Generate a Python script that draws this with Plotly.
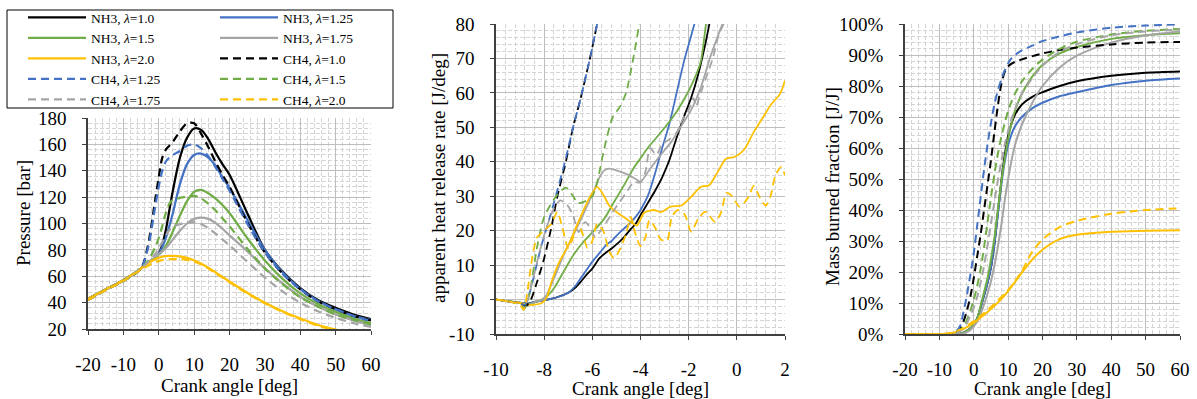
import plotly.graph_objects as go

W, H = 1197, 399
FONT = "Liberation Serif"

# ---------------- labels / colours ----------------
LABELS = ["NH3, λ=1.0", "NH3, λ=1.25", "NH3, λ=1.5", "NH3, λ=1.75", "NH3, λ=2.0",
          "CH4, λ=1.0", "CH4, λ=1.25", "CH4, λ=1.5", "CH4, λ=1.75", "CH4, λ=2.0"]
COLORS = ["#000000", "#4472C4", "#70AD47", "#A5A5A5", "#FFC000"] * 2
DASHES = ["solid"] * 5 + ["8px,5px"] * 5
LEGEND_OF = ["legend", "legend2", "legend", "legend2", "legend",
             "legend2", "legend", "legend2", "legend", "legend2"]

# ---------------- panel 1: pressure [bar] vs crank angle ----------------
P_ANGLE = [-20, -15, -10, -5, -3, -1, 0, 1, 2, 3, 4, 6, 8, 10, 12, 14, 16, 18, 20, 25, 30, 35, 40, 45, 50, 55, 60]
P_NH3_10 = [43, 50, 57, 66, 70.5, 74, 77, 84, 95, 110, 125, 150, 165, 172, 171, 164, 154, 145, 137, 108, 80, 63.5, 51, 42, 36, 31, 27.5]
P_NH3_125 = [43, 50, 57, 66, 70.5, 74, 77, 82, 89, 98, 108, 130, 145, 152, 153, 150, 144, 135, 127, 103, 80, 63, 50.5, 41.5, 35, 30, 27]
P_NH3_15 = [43, 50, 57, 66, 70.5, 74, 76.5, 79, 83, 88, 94, 106, 117, 124, 125.5, 123, 119, 114, 108, 89, 72, 58, 47, 39, 33, 28, 24.5]
P_NH3_175 = [43, 50, 57, 66, 70.5, 74, 77, 79, 81.5, 84.5, 88, 94.5, 100, 103.5, 104.5, 103.5, 100.5, 96, 91, 79, 66, 54.5, 44.5, 37, 31, 26.5, 23]
P_NH3_20 = [43, 50, 57, 66, 70, 73, 74, 74.8, 75.3, 75.5, 75.5, 75, 74, 72, 69.5, 66.5, 63, 59.5, 56, 47.5, 40, 33.5, 28, 23, 19.5, 16.5, 14]
P_CH4_10 = [42, 49.5, 56.5, 66, 84, 118, 135, 150, 156, 159, 162, 170, 176, 176, 168, 158, 147, 137, 128, 101, 78, 62, 50, 41, 35, 30, 26.5]
P_CH4_125 = [42, 49.5, 56.5, 66, 82, 113, 128, 140, 147, 150, 152, 155, 159, 160, 157, 151, 143, 134, 125, 100, 78, 62, 50, 41, 35, 30, 26]
P_CH4_15 = [42, 49.5, 56.5, 66, 72, 82, 89, 98, 108, 115, 118, 119.5, 120.5, 121, 119, 115, 110, 104, 98, 81, 66, 54, 44, 37, 31, 27, 23.5]
P_CH4_175 = [42, 49.5, 56.5, 66, 71, 77, 81, 86, 91, 95, 97.5, 99.5, 100.5, 101, 99.5, 96.5, 92.5, 88, 83.5, 71, 59, 48.5, 40, 33.5, 28.5, 24.5, 21.5]
P_CH4_20 = [42, 49.5, 56.5, 65, 68, 70.5, 71.5, 72.3, 72.8, 73, 73, 73, 72.5, 71, 69, 66, 62.5, 59, 55.5, 47, 39.5, 33, 27.5, 22.5, 19, 16, 13.5]

# ---------------- panel 2: apparent heat release rate [J/deg] ----------------
HRR_X_NH3_10 = [-10, -9.5, -9, -8.7, -8.4, -8, -7.5, -7, -6.7, -6.5, -6.2, -6, -5.7, -5.4, -5.2, -5, -4.7, -4.4, -4.2, -4, -3.7, -3.4, -3.1, -2.8, -2.5, -2.2, -1.9, -1.6, -1.3, -1.0]
HRR_NH3_10 = [0, -0.5, -0.9, -1.2, -0.7, -0.2, 0.6, 2, 3.5, 5, 7.5, 9, 12, 13.8, 14.8, 16, 18, 20.5, 22, 24.5, 28, 31.5, 35.5, 40.5, 47, 53, 58.5, 65.5, 74.5, 85]
HRR_X_NH3_125 = [-10, -9.5, -9, -8.7, -8.4, -8, -7.5, -7, -6.7, -6.5, -6.2, -6, -5.7, -5.4, -5.2, -5, -4.7, -4.4, -4.2, -4, -3.7, -3.4, -3.1, -2.8, -2.5, -2.2, -1.9, -1.6]
HRR_NH3_125 = [0, -0.5, -0.9, -1.2, -0.7, -0.2, 0.6, 2, 4, 6, 9, 11, 13.5, 16, 17, 18.5, 20.5, 22.5, 24, 26, 30, 36.5, 44, 51, 60, 69, 76.5, 84]
HRR_X_NH3_15 = [-10, -9.5, -9, -8.7, -8.4, -8.1, -7.8, -7.6, -7.2, -6.8, -6.4, -6, -5.5, -5.1, -4.7, -4.3, -4, -3.7, -3.1, -2.6, -2.2, -1.8, -1.5, -1.28, -1.1]
HRR_NH3_15 = [0, -0.5, -1, -1.5, -0.8, 0, 1.5, 3.2, 8, 12.8, 16.5, 19.5, 23.5, 28.3, 33, 38, 41, 44, 49, 53.5, 58, 63.5, 69, 80, 87]
HRR_X_NH3_175 = [-10, -9.5, -9, -8.7, -8.4, -8.0, -7.6, -7.2, -6.8, -6.4, -6.0, -5.7, -5.5, -5.3, -5.0, -4.6, -4.2, -4.0, -3.6, -3.1, -2.7, -2.3, -1.9, -1.5, -1.1, -0.6, -0.3]
HRR_NH3_175 = [0, -0.5, -1, -1.8, -0.8, 0.3, 6, 12.8, 18.6, 24.4, 30.5, 35.5, 37.5, 38, 37.5, 36.5, 35, 34.2, 38, 42.5, 46, 50.5, 55, 61.5, 70.5, 80, 86]
HRR_X_NH3_20 = [-10, -9.5, -9, -8.7, -8.4, -8.1, -7.9, -7.7, -7.4, -7.0, -6.7, -6.4, -6.1, -5.8, -5.55, -5.3, -5.0, -4.7, -4.4, -4.15, -3.85, -3.45, -3.15, -2.75, -2.3, -1.9, -1.5, -1.15, -0.8, -0.45, -0.1, 0.3, 0.7, 1.05, 1.4, 1.8, 2.0]
HRR_NH3_20 = [0, -0.5, -1, -1.5, -1.5, -1.0, 0.5, 5, 10.5, 15.7, 20.6, 25.4, 29.8, 32.7, 30.5, 27.3, 25.4, 24, 22.5, 21.5, 25.2, 26, 25.4, 27, 27.3, 29.8, 32.7, 33.2, 37, 40.9, 41.4, 43.5, 48.6, 52.5, 56.4, 59.8, 63.6]
HRR_X_CH4_10 = [-10, -9.5, -9, -8.75, -8.55, -8.3, -8.0, -7.7, -7.45, -7.1, -6.8, -6.5, -6.1, -5.8, -5.6]
HRR_CH4_10 = [0, -0.5, -1.2, -1.8, 0, 5, 12, 21, 30, 40, 50, 58, 70, 80, 86]
HRR_X_CH4_125 = [-10, -9.5, -9, -8.8, -8.6, -8.35, -8.1, -7.8, -7.5, -7.1, -6.8, -6.5, -6.1, -5.8, -5.6]
HRR_CH4_125 = [0, -0.5, -1.2, -1.5, 2, 9, 16, 23, 30.5, 41, 50, 58, 70, 80, 86]
HRR_X_CH4_15 = [-10, -9.5, -9, -8.8, -8.6, -8.3, -8.0, -7.5, -7.1, -6.8, -6.6, -6.3, -6.0, -5.8, -5.5, -5.15, -4.85, -4.6, -4.3, -4.05, -3.9]
HRR_CH4_15 = [0, -0.5, -1.5, -2.5, 2, 15, 24, 30, 32.5, 30, 28, 28.5, 30, 34, 44, 53, 56, 60, 70, 80, 86]
HRR_X_CH4_175 = [-10, -9.5, -9, -8.85, -8.5, -8.23, -7.96, -7.6, -7.33, -7.05, -6.8, -6.57, -6.3, -6.1, -5.88, -5.6, -5.32, -5.0, -4.6, -4.28, -4.0, -3.8, -3.6, -3.35, -3.1, -2.8, -2.5, -2.2, -2.0, -1.8, -1.7, -1.5, -1.2, -1.0, -0.75, -0.55, -0.4]
HRR_CH4_175 = [0, -0.5, -1.5, -3, 5, 12.8, 19.6, 26.4, 28.8, 27.5, 24.4, 19.6, 22.5, 21, 18.1, 20.6, 23.5, 27, 31, 34.1, 34, 37, 44, 42, 45, 46.5, 48.5, 53, 55, 58.5, 56, 60, 66, 70, 77, 80, 84]
HRR_X_CH4_20 = [-10, -9.5, -9, -8.85, -8.7, -8.5, -8.3, -8.0, -7.7, -7.45, -7.25, -7.0, -6.8, -6.6, -6.4, -6.2, -6.0, -5.8, -5.55, -5.3, -5.1, -4.9, -4.6, -4.4, -4.25, -4.0, -3.8, -3.63, -3.4, -3.17, -2.9, -2.7, -2.45, -2.15, -1.9, -1.6, -1.3, -0.9, -0.65, -0.43, -0.2, 0.1, 0.3, 0.5, 0.7, 0.95, 1.2, 1.4, 1.6, 1.85, 2.0]
HRR_CH4_20 = [0, -0.5, -1.5, -3, 2, 12, 18, 20, 22, 25.5, 21, 15, 18, 22, 19, 15, 17, 22, 20, 14, 12, 14, 19, 24, 20, 15.5, 18, 23, 21, 17.5, 17, 24, 26, 24.5, 19.7, 23.5, 25.5, 22.5, 25.4, 31, 30, 27, 28, 30, 33, 29.7, 27.3, 30, 36, 38.5, 36]

# ---------------- panel 3: mass burned fraction [%] ----------------
R_ANGLE = [-20, -10, -8, -6, -5, -4, -3, -2, -1, 0, 1, 2, 3, 4, 5, 6, 7, 8, 9, 10, 11, 12, 14, 17, 20, 25, 30, 40, 50, 60]
R_NH3_10 = [0, 0, 0, 0, 0, 0.1, 0.4, 1, 1.8, 3, 5, 8.5, 12.5, 16.5, 21.5, 29, 39, 49, 57.5, 64, 68, 70.8, 74, 76.5, 78, 80, 81.5, 83.3, 84.3, 84.7]
R_NH3_125 = [0, 0, 0, 0, 0, 0.1, 0.4, 1, 1.8, 3, 5, 8.5, 12.5, 16.5, 21.5, 29, 38.5, 48, 55.5, 61, 64.5, 67, 70, 72.8, 74.6, 76.7, 78, 80.3, 81.7, 82.4]
R_NH3_15 = [0, 0, 0, 0, 0, 0.1, 0.4, 1, 1.8, 3, 5, 9, 13.5, 18, 24, 31, 40, 49, 56.5, 63, 68, 72, 77.5, 83, 86.8, 90.5, 92.6, 95.2, 96.4, 97]
R_NH3_175 = [0, 0, 0, 0, 0, 0, 0.2, 0.6, 1.3, 2.5, 4, 6.5, 9.5, 13, 17, 22, 28, 35, 43, 50, 56, 61, 67.5, 74.5, 80, 86, 89.8, 94, 96.3, 97.6]
R_NH3_20 = [0, 0, 0.1, 0.4, 0.7, 1.1, 1.6, 2.2, 2.9, 3.6, 4.4, 5.3, 6.2, 7.1, 8.1, 9.1, 10.2, 11.3, 12.5, 13.8, 15.3, 16.8, 19.8, 24, 27.2, 30.6, 32, 33, 33.3, 33.5]
R_CH4_10 = [0, 0, 0, 0, 0.3, 1.5, 4, 7.5, 12, 18, 25, 32, 40, 48, 56, 65, 73.5, 80.5, 84.5, 86.3, 87.2, 87.8, 88.6, 89.6, 90.5, 91.6, 92.4, 93.4, 94, 94.2]
R_CH4_125 = [0, 0, 0, 0.3, 1, 2.5, 7, 12.5, 19, 26, 35, 44, 53, 61, 68, 74, 78.5, 82, 85, 87.3, 89, 90, 91.5, 93, 94.5, 96, 97.3, 98.8, 99.5, 99.9]
R_CH4_15 = [0, 0, 0, 0, 0.3, 1, 2.5, 4.5, 7.5, 11, 15.5, 21, 28, 36, 44, 51.5, 58, 63.5, 68, 72, 75, 77.5, 81.5, 85.5, 88.5, 92, 94.3, 96.6, 97.8, 98.4]
R_CH4_175 = [0, 0, 0, 0, 0.2, 0.8, 2, 3.5, 6, 8.5, 12, 16.5, 22, 28.5, 35.5, 42.5, 49.5, 55.5, 61, 65.5, 69.5, 72.5, 77.5, 82.5, 86.5, 91, 93.5, 96.3, 97.6, 98.2]
R_CH4_20 = [0, 0, 0.1, 0.5, 0.9, 1.4, 2, 2.7, 3.4, 4.2, 5, 5.9, 6.8, 7.7, 8.7, 9.7, 10.8, 11.9, 13, 14.2, 15.5, 17, 20.3, 26.5, 30.5, 34.5, 36.5, 38.8, 40, 40.5]

# ---------------- tick labels ----------------
P_XTICKS = [-20, -10, 0, 10, 20, 30, 40, 50, 60]
P_YTICKS = [20, 40, 60, 80, 100, 120, 140, 160, 180]
HRR_XTICKS = [-10, -8, -6, -4, -2, 0, 2]
HRR_YTICKS = [-10, 0, 10, 20, 30, 40, 50, 60, 70, 80]
R_XTICKS = [-20, -10, 0, 10, 20, 30, 40, 50, 60]
R_YTICKS = [0, 10, 20, 30, 40, 50, 60, 70, 80, 90, 100]

P_SERIES = [P_NH3_10, P_NH3_125, P_NH3_15, P_NH3_175, P_NH3_20,
            P_CH4_10, P_CH4_125, P_CH4_15, P_CH4_175, P_CH4_20]
HRR_SERIES = [(HRR_X_NH3_10, HRR_NH3_10), (HRR_X_NH3_125, HRR_NH3_125), (HRR_X_NH3_15, HRR_NH3_15),
              (HRR_X_NH3_175, HRR_NH3_175), (HRR_X_NH3_20, HRR_NH3_20),
              (HRR_X_CH4_10, HRR_CH4_10), (HRR_X_CH4_125, HRR_CH4_125), (HRR_X_CH4_15, HRR_CH4_15),
              (HRR_X_CH4_175, HRR_CH4_175), (HRR_X_CH4_20, HRR_CH4_20)]
R_SERIES = [R_NH3_10, R_NH3_125, R_NH3_15, R_NH3_175, R_NH3_20,
            R_CH4_10, R_CH4_125, R_CH4_15, R_CH4_175, R_CH4_20]


def disp(label):
    return label.replace("λ", "<i>λ</i>")


fig = go.Figure()
for i, lab in enumerate(LABELS):
    fig.add_trace(go.Scatter(
        x=P_ANGLE, y=P_SERIES[i], mode="lines", name=disp(lab),
        line=dict(color=COLORS[i], width=2.25, dash=DASHES[i], shape="spline", smoothing=0.8),
        xaxis="x", yaxis="y", legend=LEGEND_OF[i], showlegend=True, hoverinfo="skip"))
for i, lab in enumerate(LABELS):
    xs, ys = HRR_SERIES[i]
    fig.add_trace(go.Scatter(
        x=xs, y=ys, mode="lines", name=disp(lab),
        line=dict(color=COLORS[i], width=1.8, dash=DASHES[i], shape="spline", smoothing=0.7),
        xaxis="x2", yaxis="y2", showlegend=False, hoverinfo="skip"))
for i, lab in enumerate(LABELS):
    fig.add_trace(go.Scatter(
        x=R_ANGLE, y=R_SERIES[i], mode="lines", name=disp(lab),
        line=dict(color=COLORS[i], width=2, dash=DASHES[i], shape="spline", smoothing=0.8),
        xaxis="x3", yaxis="y3", showlegend=False, hoverinfo="skip"))

TICKFONT = dict(family=FONT, size=19, color="black")


def ax(domain, rng, mdtick, anchor, tickvals, ticktext, standoff):
    return dict(domain=domain, range=rng, anchor=anchor, automargin=False,
                tickmode="array", tickvals=tickvals, ticktext=ticktext,
                showline=True, linecolor="#404040", linewidth=1.5,
                ticks="outside", ticklen=4, tickwidth=1.3, tickcolor="#404040",
                showgrid=True, gridcolor="#BEBEBE", gridwidth=1, zeroline=False,
                tickfont=TICKFONT, ticklabelstandoff=standoff, fixedrange=True,
                minor=dict(dtick=mdtick, tick0=rng[0], showgrid=True, gridcolor="#D4D4D4",
                           griddash="4px,2px", gridwidth=1, ticks=""))


def px_x(p):
    return p / W


def px_y(p):
    return 1 - p / H


def title_ann(text, x, y, angle=0):
    return dict(text=text, x=px_x(x), y=px_y(y), xref="paper", yref="paper", textangle=angle,
                showarrow=False, xanchor="center", yanchor="middle",
                font=dict(family=FONT, size=19, color="black"))


LEG_FONT = dict(family=FONT, size=13.5, color="black")

layout = dict(
    width=W, height=H, margin=dict(l=0, r=0, t=0, b=0, pad=0, autoexpand=False),
    paper_bgcolor="white", plot_bgcolor="white",
    font=dict(family=FONT, size=19, color="black"),
    xaxis=ax([px_x(88), px_x(371)], [-20, 60], 2, "y", P_XTICKS, [str(v) for v in P_XTICKS], 13),
    yaxis=ax([px_y(329), px_y(118)], [20, 180], 4, "x", P_YTICKS, [str(v) for v in P_YTICKS], 12),
    xaxis2=ax([px_x(496), px_x(785)], [-10, 2], 0.4, "y2", HRR_XTICKS, [str(v) for v in HRR_XTICKS], 13),
    yaxis2=ax([px_y(334), px_y(24)], [-10, 80], 2, "x2", HRR_YTICKS, [str(v) for v in HRR_YTICKS], 12),
    xaxis3=ax([px_x(905), px_x(1180)], [-20, 60], 2, "y3", R_XTICKS, [str(v) for v in R_XTICKS], 13),
    yaxis3=ax([px_y(334), px_y(24)], [0, 100], 2, "x3", R_YTICKS, [f"{v}%" for v in R_YTICKS], 12),
    legend=dict(x=px_x(23), y=px_y(2), xanchor="left", yanchor="top", orientation="v",
                bgcolor="rgba(0,0,0,0)", borderwidth=0, itemwidth=58,
                font=LEG_FONT, tracegroupgap=0),
    legend2=dict(x=px_x(215), y=px_y(2), xanchor="left", yanchor="top", orientation="v",
                 bgcolor="rgba(0,0,0,0)", borderwidth=0, itemwidth=58,
                 font=LEG_FONT, tracegroupgap=0),
    shapes=[dict(type="rect", xref="paper", yref="paper",
                 x0=px_x(7), x1=px_x(393), y0=px_y(108), y1=px_y(10),
                 line=dict(color="black", width=1), fillcolor="rgba(0,0,0,0)", layer="above")],
    annotations=[
        title_ann("Crank angle [deg]", 229.5, 385),
        title_ann("Crank angle [deg]", 640.5, 388),
        title_ann("Crank angle [deg]", 1042.5, 388),
        title_ann("Pressure [bar]", 23, 213, -90),
        title_ann("apparent heat release rate [J/deg]", 438, 178, -90),
        title_ann("Mass burned fraction [J/J]", 832, 187, -90),
    ],
)
fig.update_layout(**layout)
fig.write_html("out.html")
